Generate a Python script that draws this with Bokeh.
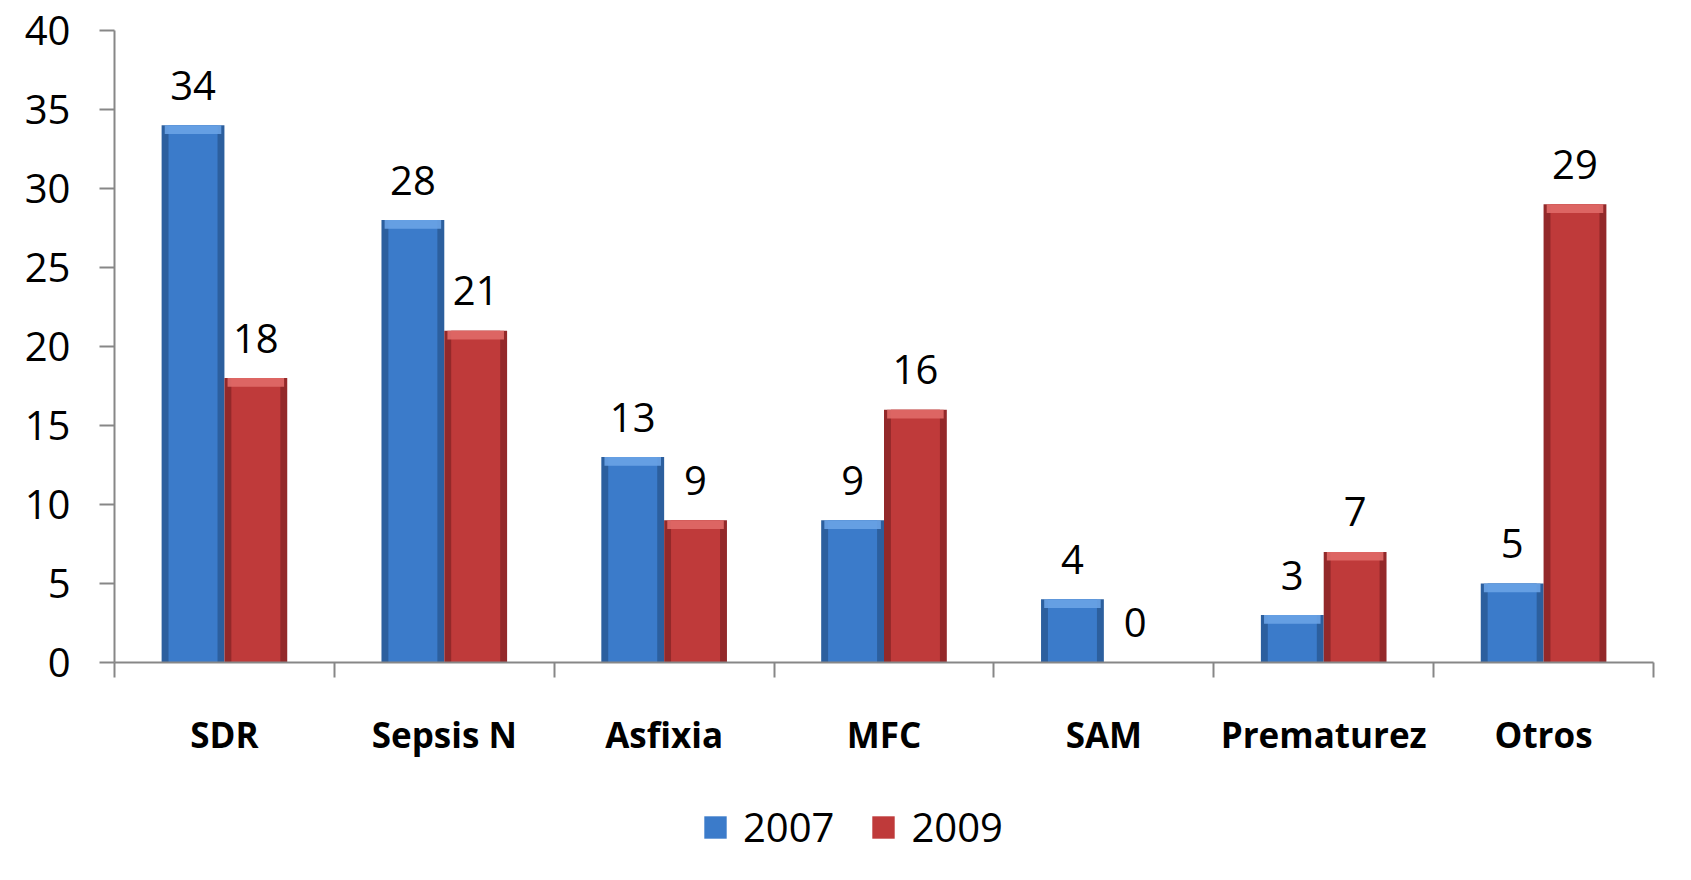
from bokeh.plotting import figure
from bokeh.layouts import column
from bokeh.models import FixedTicker, Legend, LegendItem, ColumnDataSource, Range1d
from bokeh.core.properties import value
from bokeh.embed import file_html
from bokeh.resources import INLINE

categories = ["SDR", "Sepsis N", "Asfixia", "MFC", "SAM", "Prematurez", "Otros"]
series_names = ["2007", "2009"]
values_2007 = [34, 28, 13, 9, 4, 3, 5]
values_2009 = [18, 21, 9, 16, 0, 7, 29]
y_ticks = [0, 5, 10, 15, 20, 25, 30, 35, 40]

FONT = "Open Sans"
AXIS_COLOR = "#878787"

p = figure(frame_width=1539, frame_height=632, output_backend="svg", toolbar_location=None,
           x_range=Range1d(0, len(categories)), y_range=Range1d(0, 40),
           min_border_left=114, min_border_right=38, min_border_top=30, min_border_bottom=110)
p.background_fill_color = "white"
p.border_fill_color = "white"
p.outline_line_color = None
p.xgrid.visible = False
p.ygrid.visible = False

n = len(categories)
centers = [i + 0.5 for i in range(n)]
bw = 1 / 3.5  # gap width 150%

styles = [
    # (values, offset, edge, main, highlight)
    (values_2007, -bw / 2, "#2c5f9e", "#3b7bca", "#6aa3e6"),
    (values_2009, bw / 2, "#93292a", "#bf3a3a", "#e06a68"),
]

# legend strip (separate small figure below the chart)
p2 = figure(width=1691, height=108, output_backend="svg", toolbar_location=None,
            x_range=Range1d(0, 1), y_range=Range1d(0, 1),
            x_axis_location=None, y_axis_location=None,
            min_border_left=0, min_border_right=0, min_border_top=0, min_border_bottom=0)
p2.grid.visible = False
p2.outline_line_color = None
p2.background_fill_color = "white"
p2.border_fill_color = "white"

legend_items = []
for (vals, off, edge, main, hi), name in zip(styles, series_names):
    xs = [c + off for c in centers]
    src = ColumnDataSource(dict(x=xs, top=vals, hi_bottom=[max(v - 0.55, 0) for v in vals],
                                label=[str(v) for v in vals]))
    p.vbar(x="x", top="top", bottom=0, width=bw, source=src, fill_color=edge, line_color=None)
    p.vbar(x="x", top="top", bottom=0, width=bw * 0.78, source=src, fill_color=main, line_color=None)
    p.vbar(x="x", top="top", bottom="hi_bottom", width=bw * 0.9, source=src, fill_color=hi,
           line_color=None, fill_alpha=0.9)
    p.text(x="x", y="top", text="label", source=src, text_align="center",
           text_baseline="alphabetic", y_offset=-40, text_font=value(FONT),
           text_font_size="40px", text_color="black")
    # zero-height legend proxy (draws nothing in the strip itself)
    lr = p2.vbar(x=[0.5], top=[0], bottom=[0], width=0.01, fill_color=main, line_color=None)
    legend_items.append(LegendItem(label=name, renderers=[lr]))

# y axis
ya = p.yaxis[0]
ya.ticker = FixedTicker(ticks=y_ticks)
ya.axis_line_color = AXIS_COLOR
ya.axis_line_width = 2
ya.major_tick_line_color = AXIS_COLOR
ya.major_tick_line_width = 2
ya.major_tick_out = 15
ya.major_tick_in = 0
ya.minor_tick_line_color = None
ya.major_label_standoff = 29
ya.major_label_text_font = FONT
ya.major_label_text_font_size = "40px"
ya.major_label_text_color = "black"

# x axis: labels at centers, tick marks at category boundaries
xa = p.xaxis[0]
xa.ticker = FixedTicker(ticks=centers, minor_ticks=list(range(n + 1)))
xa.major_label_overrides = {c: cat for c, cat in zip(centers, categories)}
xa.axis_line_color = AXIS_COLOR
xa.axis_line_width = 2
xa.major_tick_line_color = None
xa.major_tick_out = 0
xa.major_tick_in = 0
xa.minor_tick_line_color = AXIS_COLOR
xa.minor_tick_line_width = 2
xa.minor_tick_out = 15
xa.minor_tick_in = 0
xa.major_label_standoff = 33
xa.major_label_text_font = FONT
xa.major_label_text_font_style = "bold"
xa.major_label_text_font_size = "35px"
xa.major_label_text_color = "black"

legend = Legend(items=legend_items, orientation="horizontal", location=(587, 26),
                label_text_font=FONT, label_text_font_size="40px", label_text_color="black",
                glyph_width=28, glyph_height=28, label_standoff=14, spacing=35,
                border_line_color=None, background_fill_alpha=0, margin=0, padding=5)
p2.add_layout(legend, "center")

layout = column(p, p2, spacing=0)
open("out.html", "w").write(file_html(layout, INLINE))
